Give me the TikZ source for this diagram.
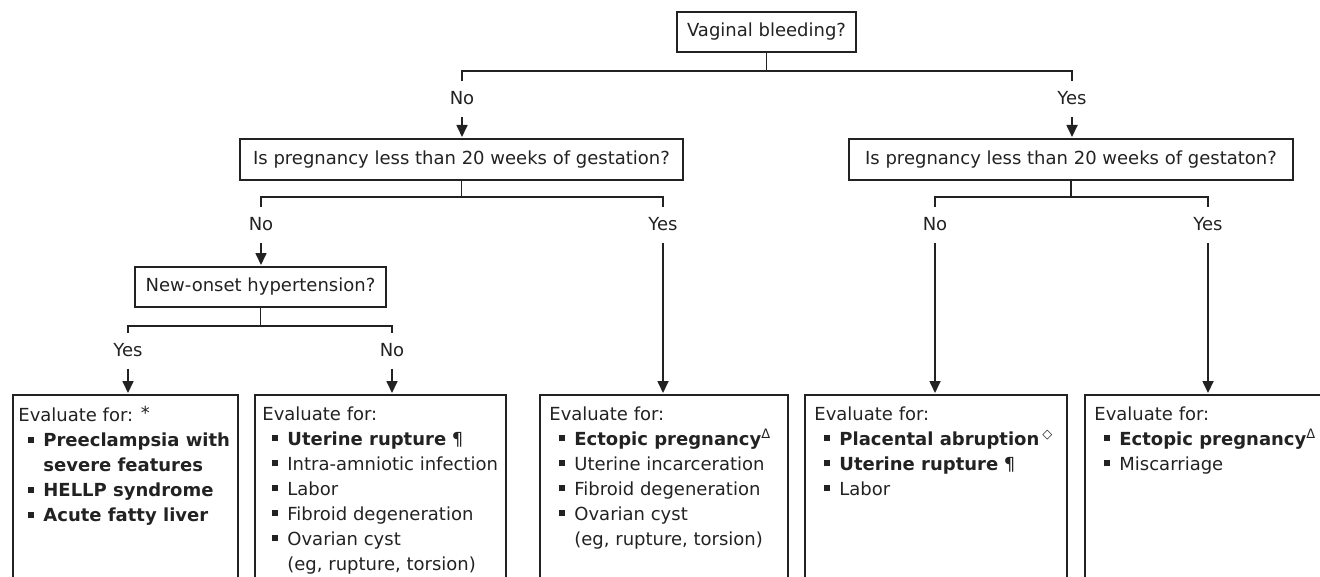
\documentclass[tikz,border=0pt]{standalone}
\usepackage{fontspec}
\setmainfont{DejaVu Sans}
\usepackage{tikz}
\usetikzlibrary{arrows.meta}
\usetikzlibrary{positioning}

\definecolor{ink}{HTML}{222222}

\tikzset{
  qbox/.style={draw=ink, line width=1pt, minimum height=20.5pt, inner sep=0pt,
    text=ink, font=\fontsize{9}{12.5}\selectfont},
  lbl/.style={inner sep=0pt, text height=6.5pt, text depth=0pt, text=ink,
    font=\fontsize{9}{12.5}\selectfont},
  frame/.style={draw=ink, line width=1pt, anchor=north west, minimum height=115pt, inner sep=0pt},
  evaltext/.style={anchor=north west, align=left, inner sep=0pt, text=ink,
    font=\fontsize{9}{12.5}\selectfont},
  link/.style={draw=ink, line width=0.85pt},
  arr/.style={draw=ink, line width=0.85pt, -{Triangle[length=6pt,width=5.5pt]}, shorten >=0.5pt}
}

\newcommand{\itm}{\hspace*{5pt}\makebox[7.5pt][l]{\rule[1.8pt]{3pt}{3pt}}}
\newcommand{\cnt}{\hspace*{12.5pt}}
\newcommand{\supmark}[1]{\raisebox{3.3pt}{\fontsize{6.5}{6.5}\selectfont #1}}

\begin{document}
\begin{tikzpicture}[x=0.5pt,y=-0.5pt]
  \useasboundingbox (0,0) rectangle (1320,577);
  \clip (0,0) rectangle (1320,577);

  % questions
  \node[qbox, minimum width=89.5pt, minimum height=20pt] (vb) at (766.5,32) {Vaginal bleeding?};
  \node[qbox, minimum width=221.5pt] (q1) at (461.5,159.5) {Is pregnancy less than 20 weeks of gestation?};
  \node[qbox, minimum width=222pt] (q2) at (1071,159.5) {Is pregnancy less than 20 weeks of gestaton?};
  \node[qbox, minimum width=125.5pt, minimum height=20pt] (ht) at (260.5,287) {New-onset hypertension?};

  % answers
  \node[lbl] (no1) at (462,98) {No};
  \node[lbl] (yes1) at (1072,98) {Yes};
  \node[lbl] (no2) at (261,224) {No};
  \node[lbl] (yes2) at (663,224) {Yes};
  \node[lbl] (no3) at (935,224) {No};
  \node[lbl] (yes3) at (1208,224) {Yes};
  \node[lbl] (yes4) at (128,350) {Yes};
  \node[lbl] (no4) at (392,350) {No};

  % branch points
  \coordinate (j1) at (766.5,71);
  \coordinate (j2) at (461.5,197);
  \coordinate (j3) at (1071,197);
  \coordinate (j4) at (260.5,326);

  % result boxes
  \node[frame, minimum width=112.5pt] (ev1) at (12,394) {};
  \node[frame, minimum width=125.5pt] (ev2) at (254,394) {};
  \node[frame, minimum width=124pt] (ev3) at (539,394) {};
  \node[frame, minimum width=131pt] (ev4) at (804,394) {};
  \node[frame, minimum width=130pt] (ev5) at (1084,394) {};

  \node[evaltext] (ev1t) at ([xshift=3pt,yshift=-6pt]ev1.north west) {Evaluate for: \raisebox{0.8pt}{*}\\
    \itm\textbf{Preeclampsia with}\\
    \cnt\textbf{severe features}\\
    \itm\textbf{HELLP syndrome}\\
    \itm\textbf{Acute fatty liver}};
  \node[evaltext] (ev2t) at ([xshift=4pt,yshift=-6pt]ev2.north west) {Evaluate for:\\
    \itm\textbf{Uterine rupture} ¶\\
    \itm Intra-amniotic infection\\
    \itm Labor\\
    \itm Fibroid degeneration\\
    \itm Ovarian cyst\\
    \cnt(eg, rupture, torsion)};
  \node[evaltext] (ev3t) at ([xshift=5pt,yshift=-6pt]ev3.north west) {Evaluate for:\\
    \itm\textbf{Ectopic pregnancy}\supmark{Δ}\\
    \itm Uterine incarceration\\
    \itm Fibroid degeneration\\
    \itm Ovarian cyst\\
    \cnt(eg, rupture, torsion)};
  \node[evaltext] (ev4t) at ([xshift=5pt,yshift=-6pt]ev4.north west) {Evaluate for:\\
    \itm\textbf{Placental abruption}\,\supmark{◇}\\
    \itm\textbf{Uterine rupture} ¶\\
    \itm Labor};
  \node[evaltext] (ev5t) at ([xshift=5pt,yshift=-6pt]ev5.north west) {Evaluate for:\\
    \itm\textbf{Ectopic pregnancy}\supmark{Δ}\\
    \itm Miscarriage};

  % splits
  \draw[link] (vb.south) -- (j1);
  \draw[link] ([yshift=5pt]no1.north) |- (j1) -| ([yshift=5pt]yes1.north);
  \draw[link] (q1.south) -- (j2);
  \draw[link] ([yshift=5pt]no2.north) |- (j2) -| ([yshift=5pt]yes2.north);
  \draw[link] (q2.south) -- (j3);
  \draw[link] ([yshift=5pt]no3.north) |- (j3) -| ([yshift=5pt]yes3.north);
  \draw[link] (ht.south) -- (j4);
  \draw[link] ([yshift=5pt]yes4.north) |- (j4) -| ([yshift=5pt]no4.north);

  % arrows
  \draw[arr] ([yshift=-6pt]no1.south) -- (no1 |- q1.north);
  \draw[arr] ([yshift=-6pt]yes1.south) -- (yes1 |- q2.north);
  \draw[arr] ([yshift=-6pt]no2.south) -- (no2 |- ht.north);
  \draw[arr] ([yshift=-6pt]yes2.south) -- (yes2 |- ev3.north);
  \draw[arr] ([yshift=-6pt]no3.south) -- (no3 |- ev4.north);
  \draw[arr] ([yshift=-6pt]yes3.south) -- (yes3 |- ev5.north);
  \draw[arr] ([yshift=-6pt]yes4.south) -- (yes4 |- ev1.north);
  \draw[arr] ([yshift=-6pt]no4.south) -- (no4 |- ev2.north);
\end{tikzpicture}
\end{document}
